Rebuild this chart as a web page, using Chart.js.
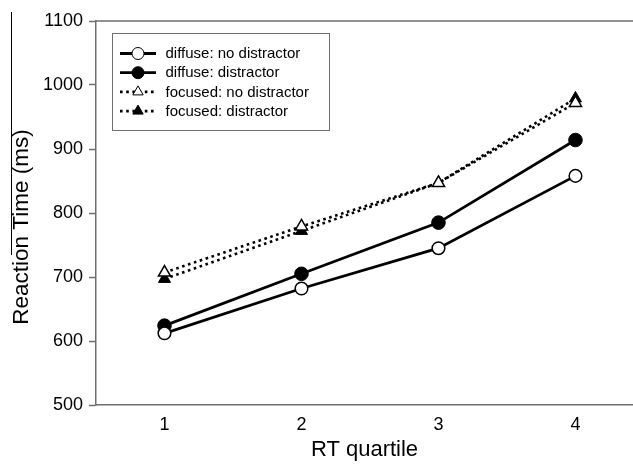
<!DOCTYPE html>
<html>
<head>
<meta charset="utf-8">
<script src="https://cdn.jsdelivr.net/npm/chart.js@4/dist/chart.umd.min.js"></script>
<style>
    html, body { margin: 0; padding: 0; background: #fff; }
    #wrap { position: relative; width: 633px; height: 466px; }
    #edge { position: absolute; left: 11px; top: 12px; width: 1px; height: 243px; background: #000; }
</style>
</head>
<body>
<div id="wrap">
    <canvas id="rtChart" width="633" height="466"></canvas>
    <div id="edge"></div>
</div>
<script>
// dados
const quartiles = [1, 2, 3, 4];
const diffuseNoDistractor = [612, 682, 745, 858];
const diffuseDistractor = [624, 705, 785, 914];
const focusedNoDistractor = [707, 779, 847, 972];
const focusedDistractor = [697, 772, 847, 979];
const yTicks = [500, 600, 700, 800, 900, 1000, 1100];
const seriesLabels = ['diffuse: no distractor', 'diffuse: distractor', 'focused: no distractor', 'focused: distractor'];
const yTitle = 'Reaction Time (ms)';

const FONT = "'Liberation Sans', Arial, sans-serif";
const AXIS_GREY = '#6e6e6e';

function pts(values) {
    return values.map((v, i) => ({ x: quartiles[i], y: v }));
}

/**
 * Moldura superior, título do eixo y e legenda desenhada à mão (linha + marcador)
 */
const framePlugin = {
    id: 'frame',
    afterDraw(chart) {
        const { ctx, chartArea } = chart;
        ctx.save();
        ctx.strokeStyle = AXIS_GREY;
        ctx.lineWidth = 1.5;
        ctx.beginPath();
        ctx.moveTo(chartArea.left, chartArea.top);
        ctx.lineTo(chartArea.right, chartArea.top);
        ctx.stroke();

        // título do eixo y (um pouco abaixo do centro, como no original)
        ctx.save();
        ctx.translate(22, (chartArea.top + chartArea.bottom) / 2 + 14);
        ctx.rotate(-Math.PI / 2);
        ctx.fillStyle = '#000';
        ctx.font = '22.5px ' + FONT;
        ctx.textAlign = 'center';
        ctx.textBaseline = 'middle';
        ctx.fillText(yTitle, 0, 0);
        ctx.restore();

        // caixa da legenda
        ctx.lineWidth = 1;
        ctx.strokeStyle = '#707070';
        ctx.strokeRect(112.5, 33.5, 217, 97);

        chart.data.datasets.forEach((ds, i) => {
            const y = 53.5 + i * 19.2;
            ctx.save();
            ctx.strokeStyle = '#000';
            ctx.lineWidth = ds.borderWidth;
            ctx.setLineDash(ds.borderDash || []);
            ctx.beginPath();
            ctx.moveTo(120, y);
            ctx.lineTo(156, y);
            ctx.stroke();
            ctx.restore();

            ctx.fillStyle = ds.pointBackgroundColor;
            ctx.strokeStyle = '#000';
            Chart.helpers.drawPoint(ctx, {
                pointStyle: ds.pointStyle,
                radius: 6,
                rotation: 0,
                borderWidth: 1.5
            }, 138, y);

            ctx.fillStyle = '#000';
            ctx.font = '15px ' + FONT;
            ctx.textBaseline = 'middle';
            ctx.textAlign = 'left';
            ctx.fillText(ds.label, 165.5, y + 0.5);
        });
        ctx.restore();
    }
};

const canvas = document.getElementById('rtChart');
new Chart(canvas.getContext('2d'), {
    type: 'line',
    data: {
        datasets: [
            {
                label: seriesLabels[0],
                data: pts(diffuseNoDistractor),
                borderColor: '#000',
                borderWidth: 2.8,
                pointStyle: 'circle',
                pointRadius: 6.3,
                pointBorderWidth: 1.5,
                pointBackgroundColor: '#fff',
                pointBorderColor: '#000'
            },
            {
                label: seriesLabels[1],
                data: pts(diffuseDistractor),
                borderColor: '#000',
                borderWidth: 2.8,
                pointStyle: 'circle',
                pointRadius: 6.8,
                pointBorderWidth: 1,
                pointBackgroundColor: '#000',
                pointBorderColor: '#000'
            },
            {
                label: seriesLabels[2],
                data: pts(focusedNoDistractor),
                borderColor: '#000',
                borderWidth: 2.6,
                borderDash: [2.6, 3.6],
                pointStyle: 'triangle',
                pointRadius: 7,
                pointBorderWidth: 1.5,
                pointBackgroundColor: '#fff',
                pointBorderColor: '#000'
            },
            {
                label: seriesLabels[3],
                data: pts(focusedDistractor),
                borderColor: '#000',
                borderWidth: 2.6,
                borderDash: [2.6, 3.6],
                pointStyle: 'triangle',
                pointRadius: 7,
                pointBorderWidth: 1,
                pointBackgroundColor: '#000',
                pointBorderColor: '#000'
            }
        ]
    },
    options: {
        responsive: false,
        animation: false,
        layout: { autoPadding: false, padding: { top: 21, right: 0, left: 0, bottom: 0 } },
        plugins: {
            legend: { display: false },
            tooltip: { enabled: false }
        },
        scales: {
            x: {
                type: 'linear',
                min: 0.5,
                max: 4.42,
                afterBuildTicks: (scale) => {
                    scale.ticks = quartiles.map(q => ({ value: q }));
                },
                afterFit: (scale) => {
                    scale.height = 61;
                    scale.paddingLeft = 0;
                    scale.paddingRight = 0;
                },
                grid: { display: false, drawOnChartArea: false, drawTicks: true, tickLength: 6, tickColor: AXIS_GREY, tickWidth: 1.5 },
                border: { display: true, color: AXIS_GREY, width: 1.5 },
                ticks: {
                    color: '#000',
                    font: { family: FONT, size: 18 },
                    padding: 3,
                    maxRotation: 0,
                    callback: (v) => String(v)
                },
                title: {
                    display: true,
                    text: 'RT quartile',
                    color: '#000',
                    font: { family: FONT, size: 22 },
                    padding: { top: 0, bottom: 3 }
                }
            },
            y: {
                min: 500,
                max: 1100,
                afterBuildTicks: (scale) => {
                    scale.ticks = yTicks.map(v => ({ value: v }));
                },
                afterFit: (scale) => { scale.width = 96; },
                grid: { display: true, drawOnChartArea: false, drawTicks: true, tickLength: 7, tickColor: AXIS_GREY, tickWidth: 1.5 },
                border: { display: true, color: AXIS_GREY, width: 1.5 },
                ticks: {
                    color: '#000',
                    font: { family: FONT, size: 18 },
                    padding: 6,
                    callback: (v) => String(v)
                },
                title: { display: false }
            }
        }
    },
    plugins: [framePlugin]
});
</script>
</body>
</html>
